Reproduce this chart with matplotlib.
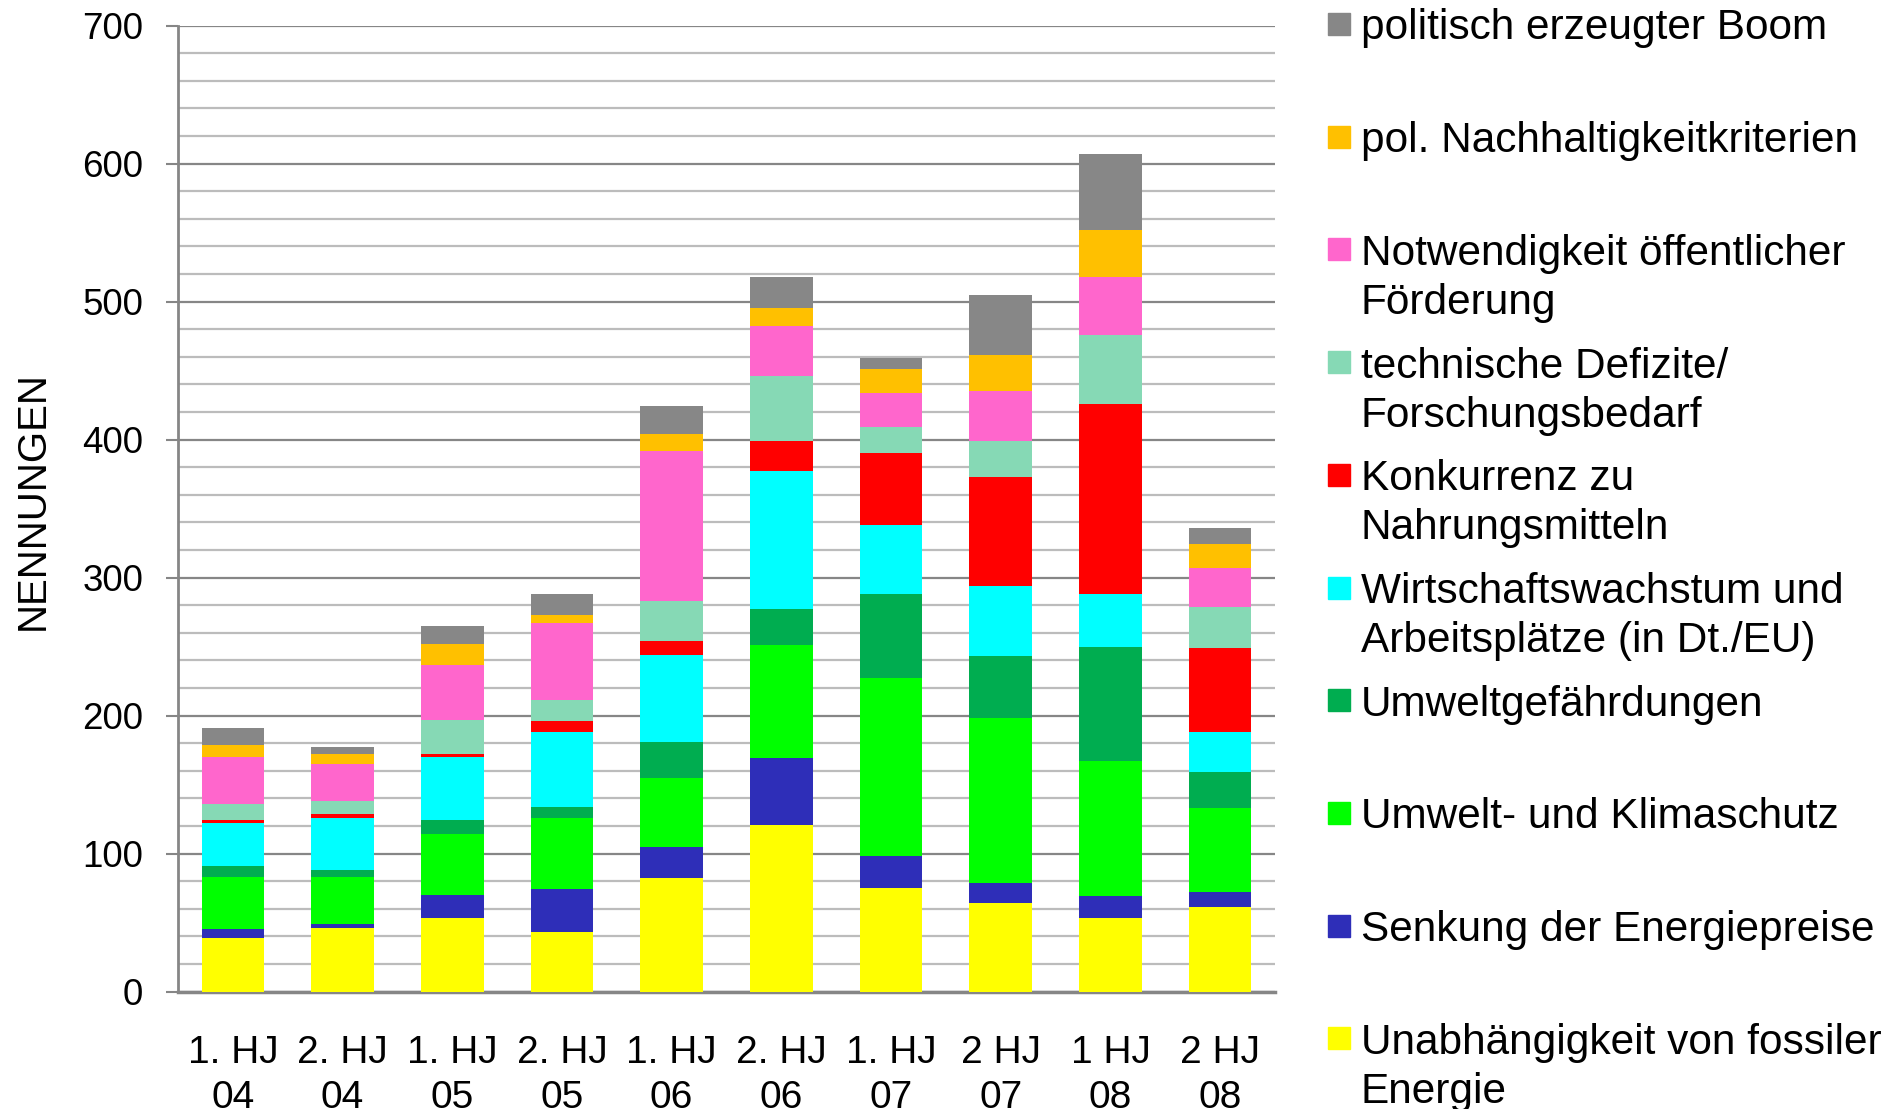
import numpy as np
import matplotlib.pyplot as plt
from matplotlib.patches import Rectangle

plt.rcParams['font.family'] = ['Liberation Sans', 'DejaVu Sans']

# Halbjahre
periods = ['1. HJ\n04', '2. HJ\n04', '1. HJ\n05', '2. HJ\n05', '1. HJ\n06',
           '2. HJ\n06', '1. HJ\n07', '2 HJ\n07', '1 HJ\n08', '2 HJ\n08']

# Nennungen je Kategorie (von unten nach oben gestapelt)
unabhaengigkeit = [39, 46, 53, 43, 82, 121, 75, 64, 53, 61]
energiepreise = [6, 3, 17, 31, 23, 48, 23, 15, 16, 11]
klimaschutz = [38, 34, 44, 52, 50, 82, 129, 119, 98, 61]
umweltgefahr = [8, 5, 10, 8, 26, 26, 61, 45, 83, 26]
wirtschaft = [31, 38, 46, 54, 63, 100, 50, 51, 38, 29]
konkurrenz = [2, 3, 2, 8, 10, 22, 52, 79, 138, 61]
technik = [12, 9, 25, 15, 29, 47, 19, 26, 50, 30]
foerderung = [34, 27, 40, 56, 109, 36, 25, 36, 42, 28]
nachhaltigkeit = [9, 7, 15, 6, 12, 13, 17, 26, 34, 17]
boom = [12, 5, 13, 15, 20, 23, 8, 44, 55, 12]

series = [unabhaengigkeit, energiepreise, klimaschutz, umweltgefahr, wirtschaft,
          konkurrenz, technik, foerderung, nachhaltigkeit, boom]
labels = ['Unabhängigkeit von fossiler\nEnergie',
          'Senkung der Energiepreise',
          'Umwelt- und Klimaschutz',
          'Umweltgefährdungen',
          'Wirtschaftswachstum und\nArbeitsplätze (in Dt./EU)',
          'Konkurrenz zu\nNahrungsmitteln',
          'technische Defizite/\nForschungsbedarf',
          'Notwendigkeit öffentlicher\nFörderung',
          'pol. Nachhaltigkeitkriterien',
          'politisch erzeugter Boom']
colors = ['#FFFF00', '#2E2EB8', '#00FF00', '#00AD50', '#00FFFF',
          '#FF0000', '#86D9B5', '#FF66CC', '#FFC000', '#878787']

W, H = 1903, 1109
fig = plt.figure(figsize=(W / 100, H / 100), dpi=100)
ax = fig.add_axes([178 / W, 1 - 991.6 / H, (1275 - 178) / W, (991.6 - 25.5) / H])

x = np.arange(len(periods))
bottom = np.zeros(len(periods))
for vals, col, lab in zip(series, colors, labels):
    ax.bar(x, vals, 0.57, bottom=bottom, color=col, label=lab, zorder=3)
    bottom += np.array(vals)

ax.set_xlim(-0.5, len(periods) - 0.5)
ax.set_ylim(0, 700)
ax.set_yticks(np.arange(0, 701, 100))
ax.set_yticks(np.arange(0, 701, 20), minor=True)
ax.grid(True, axis='y', which='major', color='#868686', linewidth=1.6, zorder=0)
ax.grid(True, axis='y', which='minor', color='#bcbcbc', linewidth=1.6, zorder=0)
ax.tick_params(axis='y', which='major', labelsize=26.5, length=9, width=1.5,
               color='#868686', pad=16)
ax.tick_params(axis='y', which='minor', length=0)
ax.set_xticks(x)
ax.set_xticklabels(periods, fontsize=28, linespacing=1.32)
ax.tick_params(axis='x', length=0, pad=31)

for s in ['top', 'right']:
    ax.spines[s].set_visible(False)
ax.spines['left'].set_color('#868686')
ax.spines['left'].set_linewidth(2)
ax.spines['bottom'].set_color('#868686')
ax.spines['bottom'].set_linewidth(2.5)

# y-Achsentitel
fig.text(33 / W, 1 - 501 / H, 'NENNUNGEN', fontsize=29, rotation=90,
         ha='center', va='center')

# Legende manuell, gleichmäßige Abstände
y0, step = 24, 112.7
for i, (lab, col) in enumerate(zip(labels[::-1], colors[::-1])):
    yc = y0 + i * step
    fig.patches.append(Rectangle((1328 / W, 1 - (yc + 11) / H), 22 / W, 22 / H,
                                 transform=fig.transFigure, color=col))
    for j, line in enumerate(lab.split('\n')):
        fig.text(1361 / W, 1 - (yc + j * 49) / H, line, fontsize=30.5,
                 va='center_baseline', ha='left')

fig.savefig('out.png', dpi=100)
